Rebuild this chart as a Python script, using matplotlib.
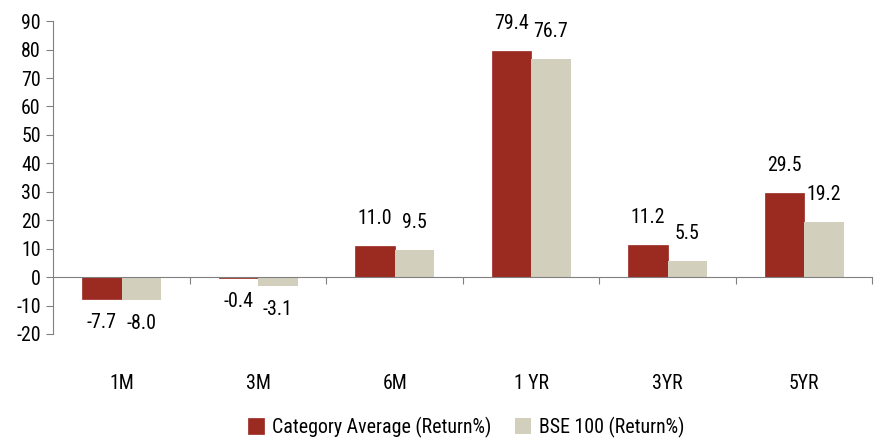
import matplotlib.pyplot as plt
from matplotlib.transforms import blended_transform_factory
import numpy as np

plt.rcParams['font.family'] = ['Liberation Sans Narrow', 'DejaVu Sans Condensed', 'Roboto Condensed', 'Roboto', 'DejaVu Sans']
plt.rcParams['axes.unicode_minus'] = False

periods = ['1M', '3M', '6M', '1 YR', '3YR', '5YR']
category_avg = [-7.7, -0.4, 11.0, 79.4, 11.2, 29.5]
bse100 = [-8.0, -3.1, 9.5, 76.7, 5.5, 19.2]

red = '#9b2a21'
beige = '#d2cfbc'
fs = 14.3

fig = plt.figure(figsize=(8.75, 4.4), dpi=100)
ax = fig.add_axes([0.061, 0.241, 0.936, 0.711])

x = np.arange(len(periods))
w = 0.29
b1 = ax.bar(x - w / 2, category_avg, w, color=red, edgecolor=red, linewidth=0.5,
            label='Category Average (Return%)')
b2 = ax.bar(x + w / 2, bse100, w, color=beige, label='BSE 100 (Return%)')

# value labels above / below the bars
for bars, vals in [(b1, category_avg), (b2, bse100)]:
    for bar, v in zip(bars, vals):
        cx = bar.get_x() + bar.get_width() / 2
        if v >= 0:
            ax.annotate(f'{v:.1f}', (cx, v), xytext=(0, 13), textcoords='offset points',
                        ha='center', va='bottom', fontsize=fs)
        else:
            ax.annotate(f'{v:.1f}', (cx, v), xytext=(0, -10), textcoords='offset points',
                        ha='center', va='top', fontsize=fs)

ax.set_xlim(-0.5, 5.5)
ax.set_ylim(-20, 90)
ax.set_yticks(range(-20, 91, 10))
ax.tick_params(axis='y', labelsize=fs, length=5, color='#808080', pad=4)

ax.spines['top'].set_visible(False)
ax.spines['right'].set_visible(False)
ax.spines['left'].set_color('#808080')
ax.spines['bottom'].set_color('#808080')
ax.spines['bottom'].set_position(('data', 0))

ax.set_xticks(np.arange(0.5, 6, 1))
ax.tick_params(axis='x', direction='out', length=5, color='#808080', labelbottom=False)

trans = blended_transform_factory(ax.transData, ax.transAxes)
for i, p in enumerate(periods):
    ax.text(i, -0.157, p, transform=trans, ha='center', va='center', fontsize=fs)

fig.legend(loc='lower center', bbox_to_anchor=(0.533, -0.035), ncol=2, frameon=False,
           fontsize=fs, handlelength=0.8, handleheight=0.8, columnspacing=1.2,
           handletextpad=0.4)

fig.savefig('out.png')
